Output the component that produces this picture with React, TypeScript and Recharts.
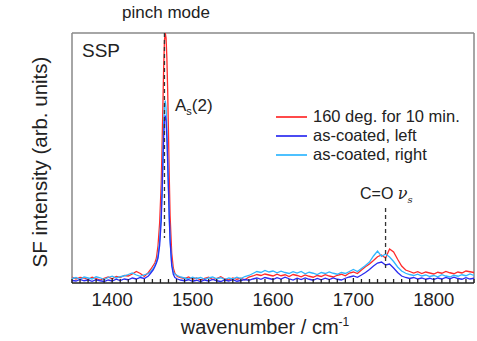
import { LineChart, Line, XAxis, YAxis, ReferenceLine } from 'recharts';

// wavenumber grid (cm-1), finer around the pinch mode
const wavenumbers = [
  1350, 1355, 1360, 1365, 1370, 1375, 1380, 1385, 1390, 1395,
  1400, 1405, 1410, 1415, 1420, 1425, 1430, 1435, 1440, 1445,
  1448, 1451, 1453, 1455, 1457, 1459, 1461, 1462, 1463, 1464,
  1465, 1466, 1467, 1468, 1469, 1470, 1471, 1472, 1474, 1476,
  1478, 1481, 1485,
  1490, 1495, 1500, 1505, 1510, 1515, 1520, 1525, 1530, 1535,
  1540, 1545, 1550, 1555, 1560, 1565, 1570, 1575, 1580, 1585,
  1590, 1595, 1600, 1605, 1610, 1615, 1620, 1625, 1630, 1635,
  1640, 1645, 1650, 1655, 1660, 1665, 1670, 1675, 1680, 1685,
  1690, 1695, 1700, 1705, 1710, 1715, 1720, 1725, 1730, 1735,
  1740, 1745, 1750, 1755, 1760, 1765, 1770, 1775, 1780, 1785,
  1790, 1795, 1800, 1805, 1810, 1815, 1820, 1825, 1830, 1835,
  1840, 1845, 1850,
];

const annealed = [
  2.4, 1.6, 2.2, 2.0, 1.4, 2.3, 1.8, 1.2, 1.9, 2.4,
  1.7, 2.6, 2.2, 3.0, 2.8, 3.6, 4.6, 3.8, 2.6, 4.2,
  5.5, 7, 8, 10, 15, 24, 40, 54, 70, 86,
  97, 100, 98, 90, 77, 60, 42, 27, 12, 6,
  3.8, 2.6, 2.2,
  1.8, 2.4, 1.5, 2.0, 1.2, 1.9, 2.3, 1.4, 1.8, 2.5,
  1.6, 1.2, 2.0, 1.5, 1.9, 1.3, 2.4, 2.8, 3.4, 3.0,
  3.6, 3.2, 2.8, 3.5, 2.9, 3.3, 2.6, 3.4, 3.0, 2.5,
  3.2, 2.7, 2.3, 3.0, 2.6, 3.3, 2.8, 2.4, 3.1, 3.5,
  2.9, 4.0, 4.4, 3.8, 5.2, 6.5, 7.6, 9.0, 10.5, 11.2,
  10.0, 13.6, 12.4, 9.5, 6.8, 5.2, 4.6, 4.0, 4.5, 3.8,
  4.4, 4.0, 3.6, 4.3, 3.9, 4.6, 4.1, 3.7, 4.4, 4.0,
  4.8, 4.5, 4.2,
];

const coatedLeft = [
  1.0, 0.8, 1.4, 0.9, 1.2, 0.7, 1.3, 0.9, 0.6, 1.2,
  0.8, 1.5, 1.0, 1.6, 1.3, 2.0, 1.6, 2.2, 1.8, 2.8,
  4.0, 5.2, 6.5, 8, 10, 15, 25, 35, 47, 58,
  65, 67, 65, 58, 48, 37, 26, 17, 7, 3.5,
  2.2, 1.6, 1.2,
  0.9, 1.3, 0.7, 1.1, 0.6, 1.2, 0.8, 1.4, 0.9, 0.6,
  1.2, 0.8, 1.3, 0.7, 1.0, 1.4, 1.1, 1.6, 2.0, 1.5,
  2.2, 1.8, 1.4, 2.1, 1.6, 2.3, 1.7, 1.2, 1.9, 1.4,
  2.0, 1.5, 1.1, 1.8, 1.3, 1.9, 1.4, 2.0, 1.5, 1.2,
  1.9, 2.4, 2.8, 2.3, 3.2, 4.2, 5.4, 6.8, 8.0, 8.4,
  7.2, 7.6, 6.0, 4.2, 2.8, 2.2, 1.8, 2.2, 1.6, 2.0,
  1.5, 1.9, 1.4, 2.0, 1.6, 2.2, 1.7, 2.3, 1.8, 1.5,
  2.1, 1.6, 1.9,
];

const coatedRight = [
  1.8, 2.2, 1.5, 2.4, 2.0, 1.6, 2.5, 2.1, 1.4, 2.2,
  2.7, 2.0, 2.5, 2.9, 3.4, 4.0, 3.2, 2.7, 3.3, 3.8,
  4.6, 5.8, 7, 8.5, 11, 17, 28, 38, 50, 63,
  71, 73, 70, 62, 50, 38, 26, 17, 8, 4.5,
  3.5, 3.0, 2.4,
  2.0, 1.6, 2.3, 1.8, 2.2, 1.5, 2.0, 2.4, 1.7, 2.1,
  1.4, 2.0, 1.6, 2.3, 1.8, 2.6, 3.0, 3.8, 4.6, 4.2,
  5.0, 4.4, 4.8, 4.1, 4.7, 4.2, 3.8, 4.5, 4.0, 4.6,
  3.7, 4.3, 3.9, 3.4, 4.2, 3.8, 4.4, 3.9, 3.5, 4.2,
  3.8, 4.6, 5.4, 4.6, 5.8, 7.0, 8.4, 10.8, 12.8, 10.6,
  11.6, 10.4, 8.6, 6.4, 4.8, 3.9, 3.4, 3.0, 3.5, 2.8,
  3.2, 2.6, 3.0, 2.5, 3.3, 2.8, 2.4, 3.1, 2.7, 3.3,
  2.9, 3.6, 3.0,
];

const seriesNames = ['160 deg. for 10 min.', 'as-coated, left', 'as-coated, right'];
const seriesColors = ['#ff2a2a', '#2b2bf0', '#2fb6ff'];

const xTicks: number[] = [];
for (let t = 1350; t <= 1850; t += 10) xTicks.push(t);

const data = wavenumbers.map((wn, i) => ({
  wn,
  annealed: annealed[i],
  left: coatedLeft[i],
  right: coatedRight[i],
}));

const FONT = 'Arial, "Liberation Sans", sans-serif';

function AxisTick({ x, y, payload }: any) {
  const major = payload.value % 100 === 0;
  return (
    <g>
      <line x1={x} x2={x} y1={y} y2={y - (major ? 5 : 4)} stroke="#222" strokeWidth={1.3} />
      {major && (
        <text x={x} y={y + 23} textAnchor="middle" fontSize={18.5} fill="#222" fontFamily={FONT}>
          {payload.value}
        </text>
      )}
    </g>
  );
}

export default function App() {
  return (
    <div style={{ position: 'fixed', left: 0, top: 0, width: 477, height: 341, background: '#fff', fontFamily: FONT, color: '#222' }}>
      <LineChart width={477} height={341} data={data} margin={{ top: 33, right: 3, bottom: 0, left: 72 }}>
        <XAxis
          dataKey="wn"
          type="number"
          domain={[1350, 1850]}
          ticks={xTicks}
          interval={0}
          tickSize={0}
          tickMargin={0}
          tick={<AxisTick />}
          height={58}
          axisLine={{ stroke: '#222', strokeWidth: 1.5 }}
          tickLine={false}
        />
        <YAxis type="number" domain={[0, 100]} hide allowDataOverflow />
        <ReferenceLine x={1350} stroke="#888" strokeWidth={1.5} />
        <ReferenceLine x={1850} stroke="#888" strokeWidth={1.5} />
        <ReferenceLine y={100} stroke="#888" strokeWidth={1.5} />
        <Line dataKey="annealed" stroke={seriesColors[0]} strokeWidth={1.3} dot={false} isAnimationActive={false} />
        <Line dataKey="right" stroke={seriesColors[2]} strokeWidth={1.3} dot={false} isAnimationActive={false} />
        <Line dataKey="left" stroke={seriesColors[1]} strokeWidth={1.3} dot={false} isAnimationActive={false} />
        <ReferenceLine
          segment={[{ x: 1465, y: 100 }, { x: 1465, y: 18 }]}
          stroke="#333"
          strokeWidth={1.3}
          strokeDasharray="4 3"
        />
        <ReferenceLine
          segment={[{ x: 1740, y: 30 }, { x: 1740, y: 5 }]}
          stroke="#333"
          strokeWidth={1.3}
          strokeDasharray="4 3"
        />
      </LineChart>

      <div style={{ position: 'absolute', left: 166, top: 3, transform: 'translateX(-50%)', fontSize: 17, whiteSpace: 'nowrap' }}>
        pinch mode
      </div>
      <div style={{ position: 'absolute', left: 82, top: 40, fontSize: 19 }}>SSP</div>
      <div style={{ position: 'absolute', left: 175, top: 96, fontSize: 17, whiteSpace: 'nowrap' }}>
        A<sub style={{ fontSize: 11 }}>s</sub>(2)
      </div>

      <div style={{ position: 'absolute', left: 276, top: 107 }}>
        {seriesNames.map((name, i) => (
          <div key={name} style={{ display: 'flex', alignItems: 'center', height: 19, fontSize: 16.5, whiteSpace: 'nowrap' }}>
            <span style={{ display: 'inline-block', width: 31, height: 2, background: seriesColors[i], marginRight: 6, opacity: 0.85 }} />
            {name}
          </div>
        ))}
      </div>

      <div style={{ position: 'absolute', left: 360, top: 184, fontSize: 16, whiteSpace: 'nowrap' }}>
        C=O{' '}
        <span style={{ fontFamily: '"DejaVu Serif", serif', fontStyle: 'italic' }}>
          ν<sub style={{ fontSize: 10 }}>s</sub>
        </span>
      </div>

      <div
        style={{
          position: 'absolute',
          left: 40,
          top: 162,
          transform: 'translate(-50%, -50%) rotate(-90deg)',
          fontSize: 20.5,
          whiteSpace: 'nowrap',
        }}
      >
        SF intensity (arb. units)
      </div>
      <div style={{ position: 'absolute', left: 265, top: 315, transform: 'translateX(-50%)', fontSize: 20, whiteSpace: 'nowrap' }}>
        wavenumber / cm<sup style={{ fontSize: 12 }}>-1</sup>
      </div>
    </div>
  );
}
